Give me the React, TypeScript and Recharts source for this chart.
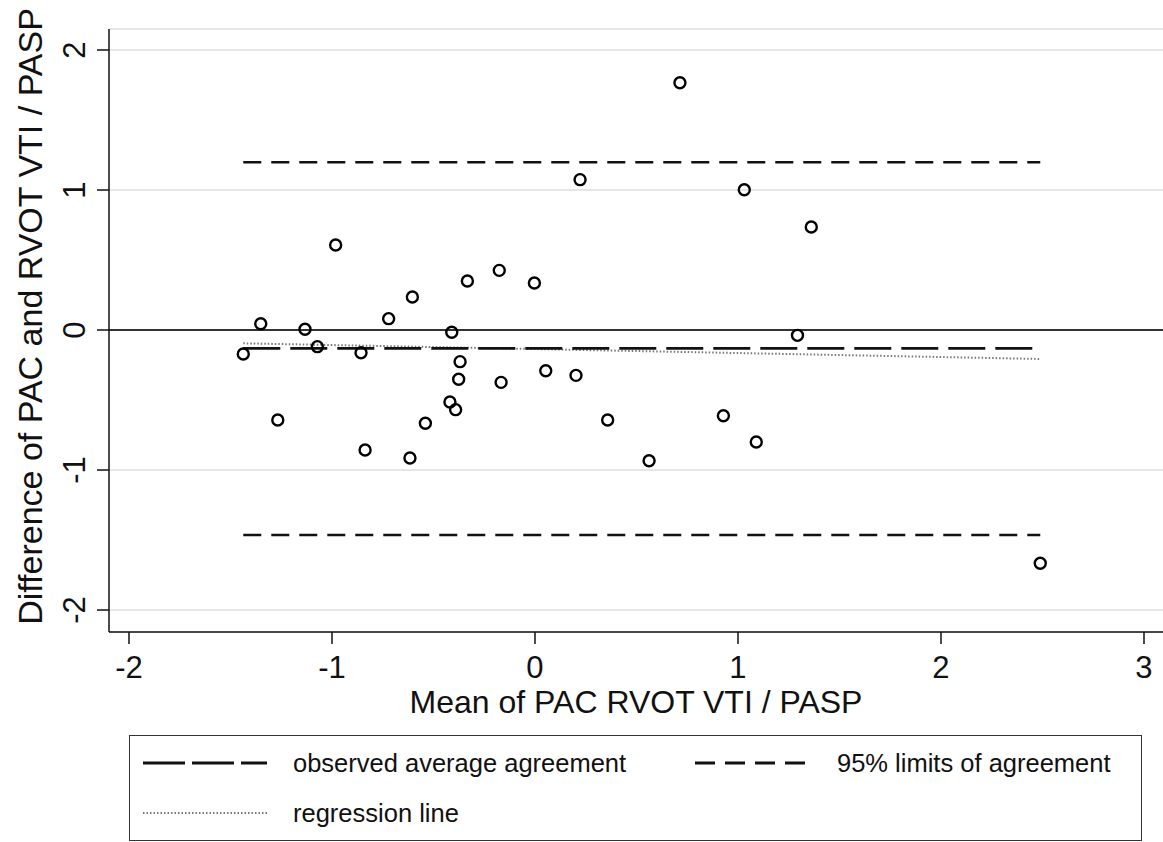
import React from 'react';
import { ScatterChart, Scatter, XAxis, YAxis, CartesianGrid, ReferenceLine, Legend } from 'recharts';

// Bland-Altman: mean of the two measures (x) vs their difference (y)
const meanValues = [
  -1.437, -1.351, -1.267, -1.133, -1.072, -0.982, -0.857, -0.837, -0.721, -0.616, -0.604,
  -0.54, -0.419, -0.41, -0.391, -0.376, -0.369, -0.333, -0.176, -0.167, -0.003, 0.053,
  0.202, 0.222, 0.358, 0.562, 0.714, 0.928, 1.031, 1.09, 1.293, 1.361, 2.489,
];
const diffValues = [
  -0.171, 0.045, -0.643, 0.005, -0.119, 0.607, -0.162, -0.857, 0.081, -0.914, 0.236,
  -0.666, -0.514, -0.016, -0.569, -0.352, -0.226, 0.35, 0.426, -0.374, 0.336, -0.291,
  -0.324, 1.074, -0.643, -0.934, 1.766, -0.612, 1.002, -0.8, -0.038, 0.736, -1.666,
];
const xTicks = [-2, -1, 0, 1, 2, 3];
const yTicks = [-2, -1, 0, 1, 2];
const lineRange = [-1.437, 2.489];
const averageDiff = -0.131;
const agreementLimits = [1.198, -1.464];
const regressionEnds = [-0.095, -0.207];
const legendLabels = ['observed average agreement', '95% limits of agreement', 'regression line'];

const FONT = '"Liberation Sans", Arial, Helvetica, sans-serif';
const INK = '#111';

const points = meanValues.map((x, i) => ({ x, y: diffValues[i] }));

const XTick = (props: any) => (
  <text x={props.x} y={props.y + 32} textAnchor="middle" fontSize={31} fill={INK} fontFamily={FONT}>
    {props.payload.value}
  </text>
);

const YTick = (props: any) => {
  const cx = props.x - 21;
  const cy = props.y;
  return (
    <text x={cx} y={cy} dy="0.36em" transform={`rotate(-90 ${cx} ${cy})`} textAnchor="middle"
      fontSize={31} fill={INK} fontFamily={FONT}>
      {props.payload.value}
    </text>
  );
};

const renderYTitle = (props: any) => {
  const vb = props.viewBox ?? { x: 0, y: 29, width: 109, height: 603 };
  const cx = 30;
  const cy = vb.y + vb.height / 2 - 14;
  return (
    <text x={cx} y={cy} dy="0.35em" transform={`rotate(-90 ${cx} ${cy})`} textAnchor="middle"
      fontSize={34} fill={INK} fontFamily={FONT}>
      Difference of PAC and RVOT VTI / PASP
    </text>
  );
};

const Ring = (p: any) => <circle cx={p.cx} cy={p.cy} r={5.5} fill="none" stroke="#000" strokeWidth={2.4} />;

const sample = (w: number, dash: string, color: string, width: number) => (
  <svg width={w} height={10} style={{ position: 'absolute', left: 0, top: -5 }}>
    <line x1={0} y1={5} x2={w} y2={5} stroke={color} strokeWidth={width} strokeDasharray={dash} />
  </svg>
);

const renderLegend = () => {
  const text: React.CSSProperties = {
    position: 'absolute', fontSize: 25.5, fontFamily: FONT, color: INK, lineHeight: '30px', top: -15, whiteSpace: 'nowrap',
  };
  return (
    <div style={{ position: 'relative', width: 1013, height: 106, border: '1.5px solid #333', boxSizing: 'border-box', background: '#fff' }}>
      <div style={{ position: 'absolute', left: 13, top: 27 }}>
        {sample(124, '42 7', INK, 3)}
        <span style={{ ...text, left: 150 }}>{legendLabels[0]}</span>
      </div>
      <div style={{ position: 'absolute', left: 565, top: 27 }}>
        {sample(120, '20 10', INK, 3)}
        <span style={{ ...text, left: 142 }}>{legendLabels[1]}</span>
      </div>
      <div style={{ position: 'absolute', left: 13, top: 77 }}>
        {sample(124, '1.5 2', '#777', 2)}
        <span style={{ ...text, left: 150 }}>{legendLabels[2]}</span>
      </div>
    </div>
  );
};

export default function App() {
  return (
    <div style={{ position: 'absolute', left: 0, top: 0, width: 1163, height: 842, overflow: 'hidden', background: '#fff' }}>
      <ScatterChart width={1163} height={842} margin={{ top: 29, right: 0, bottom: 110, left: 0 }}>
        <CartesianGrid vertical={false} stroke="#e6e6e6" strokeWidth={2} />
        <XAxis type="number" dataKey="x" domain={[-2.0985, 3.0936]} ticks={xTicks} allowDataOverflow
          height={100} tickSize={12} tick={<XTick />}
          axisLine={{ stroke: INK, strokeWidth: 1.5 }} tickLine={{ stroke: INK, strokeWidth: 1.5 }}
          label={{ value: 'Mean of PAC RVOT VTI / PASP', position: 'insideBottom', offset: 19, fontSize: 32, fill: INK, fontFamily: FONT }} />
        <YAxis type="number" dataKey="y" domain={[-2.157, 2.15]} ticks={yTicks} allowDataOverflow
          width={109} tickSize={12} tick={<YTick />}
          axisLine={{ stroke: INK, strokeWidth: 1.5 }} tickLine={{ stroke: INK, strokeWidth: 1.5 }}
          label={renderYTitle} />
        <ReferenceLine y={0} stroke="#333" strokeWidth={2.2} />
        <ReferenceLine segment={[{ x: lineRange[0], y: regressionEnds[0] }, { x: lineRange[1], y: regressionEnds[1] }]}
          stroke="#777" strokeWidth={2} strokeDasharray="1.5 2" />
        <ReferenceLine segment={[{ x: lineRange[0], y: averageDiff }, { x: lineRange[1], y: averageDiff }]}
          stroke={INK} strokeWidth={2.6} strokeDasharray="37 10" />
        {agreementLimits.map((v) => (
          <ReferenceLine key={v} segment={[{ x: lineRange[0], y: v }, { x: lineRange[1], y: v }]}
            stroke={INK} strokeWidth={2.6} strokeDasharray="18 10" />
        ))}
        <Scatter data={points} shape={<Ring />} isAnimationActive={false} />
        <Legend layout="horizontal" verticalAlign="middle" align="center"
          wrapperStyle={{ left: 129, top: 735, width: 1013, height: 106 }} content={renderLegend} />
      </ScatterChart>
    </div>
  );
}
